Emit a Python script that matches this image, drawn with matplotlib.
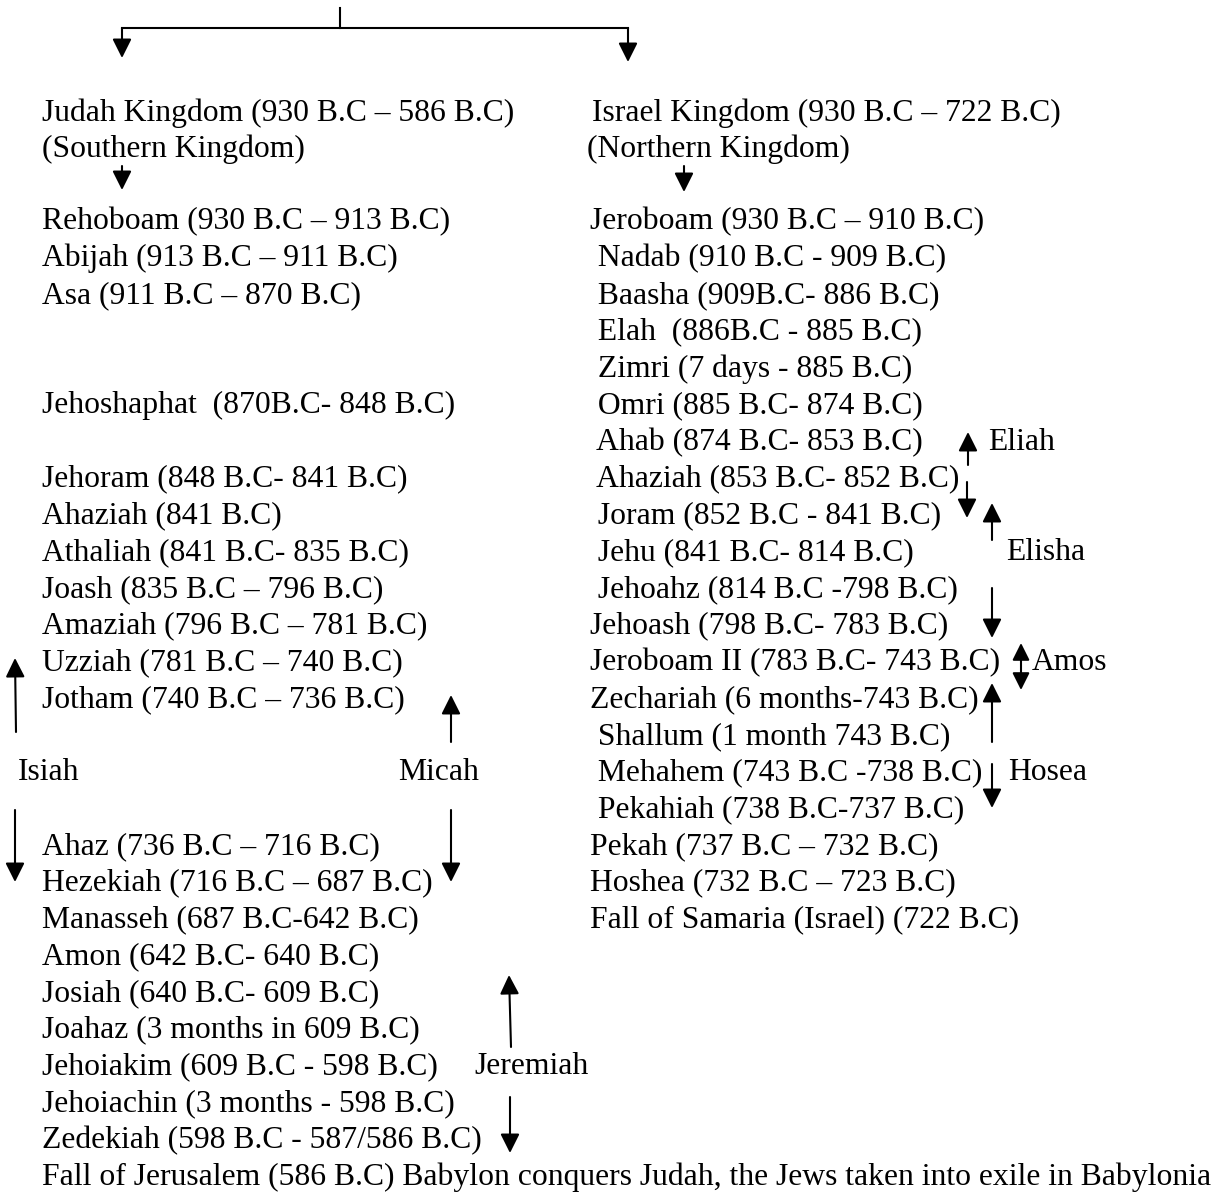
import matplotlib.pyplot as plt

plt.rcParams['font.family'] = ['Liberation Serif', 'DejaVu Serif']

# headers
judah_head = ["Judah Kingdom (930 B.C \u2013 586 B.C)", "(Southern Kingdom)"]
israel_head = ["Israel Kingdom (930 B.C \u2013 722 B.C)", "(Northern Kingdom)"]

# one entry per text line, "" is an empty line
judah_lines = [
    "Rehoboam (930 B.C \u2013 913 B.C)",
    "Abijah (913 B.C \u2013 911 B.C)",
    "Asa (911 B.C \u2013 870 B.C)",
    "", "",
    "Jehoshaphat  (870B.C- 848 B.C)",
    "",
    "Jehoram (848 B.C- 841 B.C)",
    "Ahaziah (841 B.C)",
    "Athaliah (841 B.C- 835 B.C)",
    "Joash (835 B.C \u2013 796 B.C)",
    "Amaziah (796 B.C \u2013 781 B.C)",
    "Uzziah (781 B.C \u2013 740 B.C)",
    "Jotham (740 B.C \u2013 736 B.C)",
    "", "", "",
    "Ahaz (736 B.C \u2013 716 B.C)",
    "Hezekiah (716 B.C \u2013 687 B.C)",
    "Manasseh (687 B.C-642 B.C)",
    "Amon (642 B.C- 640 B.C)",
    "Josiah (640 B.C- 609 B.C)",
    "Joahaz (3 months in 609 B.C)",
    "Jehoiakim (609 B.C - 598 B.C)",
    "Jehoiachin (3 months - 598 B.C)",
    "Zedekiah (598 B.C - 587/586 B.C)",
    "Fall of Jerusalem (586 B.C) Babylon conquers Judah, the Jews taken into exile in Babylonia",
]

israel_lines = [
    "Jeroboam (930 B.C \u2013 910 B.C)",
    " Nadab (910 B.C - 909 B.C)",
    " Baasha (909B.C- 886 B.C)",
    " Elah  (886B.C - 885 B.C)",
    " Zimri (7 days - 885 B.C)",
    " Omri (885 B.C- 874 B.C)",
    " Ahab (874 B.C- 853 B.C)",
    " Ahaziah (853 B.C- 852 B.C)",
    " Joram (852 B.C - 841 B.C)",
    " Jehu (841 B.C- 814 B.C)",
    " Jehoahz (814 B.C -798 B.C)",
    "Jehoash (798 B.C- 783 B.C)",
    "Jeroboam II (783 B.C- 743 B.C)",
    "Zechariah (6 months-743 B.C)",
    " Shallum (1 month 743 B.C)",
    " Mehahem (743 B.C -738 B.C)",
    " Pekahiah (738 B.C-737 B.C)",
    "Pekah (737 B.C \u2013 732 B.C)",
    "Hoshea (732 B.C \u2013 723 B.C)",
    "Fall of Samaria (Israel) (722 B.C)",
]

# prophets: name, text line, column offset
prophets = [("Isiah", 15, 18), ("Micah", 15, 398), ("Jeremiah", 23, 474),
            ("Eliah", 6, 988), ("Elisha", 9, 1006), ("Amos", 12, 1032),
            ("Hosea", 15, 1008)]

W, H = 1228, 1192
fig = plt.figure(figsize=(W / 100, H / 100), dpi=100)
ax = fig.add_axes([0, 0, 1, 1])
ax.set_xlim(0, W)
ax.set_ylim(H, 0)
ax.axis('off')

FS = 22.8
row0, dy = 222, 36.73
xl, xr = 42, 590


def row_y(i):
    return row0 + i * dy


def arrow(x0, y0, x1, y1):
    ax.annotate('', xy=(x1, y1), xytext=(x0, y0),
                arrowprops=dict(arrowstyle='-|>', color='black', lw=1.5,
                                mutation_scale=29, shrinkA=0, shrinkB=0))


def double_arrow(x, y0, y1):
    ax.annotate('', xy=(x, y1), xytext=(x, y0),
                arrowprops=dict(arrowstyle='<|-|>', color='black', lw=1.5,
                                mutation_scale=26, shrinkA=0, shrinkB=0))


# top split
ax.plot([340, 340], [8, 28], color='black', lw=1.5)
ax.plot([122, 628], [28, 28], color='black', lw=1.5)
arrow(122, 28, 122, 58)
arrow(628, 28, 628, 62)

# headers
ax.text(xl, 113, judah_head[0], fontsize=FS, va='center')
ax.text(xl, 149, judah_head[1], fontsize=FS, va='center')
ax.text(xr + 2, 113, israel_head[0], fontsize=FS, va='center')
ax.text(xr - 3, 149, israel_head[1], fontsize=FS, va='center')
arrow(122, 166, 122, 190)
arrow(684, 166, 684, 192)

for i, s in enumerate(judah_lines):
    if s:
        ax.text(xl, row_y(i), s, fontsize=FS, va='center')

for i, s in enumerate(israel_lines):
    ax.text(xr, row_y(i), s, fontsize=FS, va='center')

for name, r, x in prophets:
    ax.text(x, row_y(r), name, fontsize=FS, va='center')

# Isiah / Micah / Jeremiah arrows
arrow(16, 732, 15, 658)
arrow(15, 810, 15, 882)
arrow(451, 742, 451, 695)
arrow(451, 810, 451, 882)
arrow(511, 1047, 509, 975)
arrow(510, 1097, 510, 1153)

# northern prophets arrows
arrow(968, 465, 968, 432)
arrow(967, 482, 967, 518)
arrow(992, 540, 992, 503)
arrow(992, 588, 992, 638)
double_arrow(1021, 643, 690)
arrow(992, 742, 992, 683)
arrow(992, 764, 992, 808)

fig.savefig('out.png', dpi=100)
